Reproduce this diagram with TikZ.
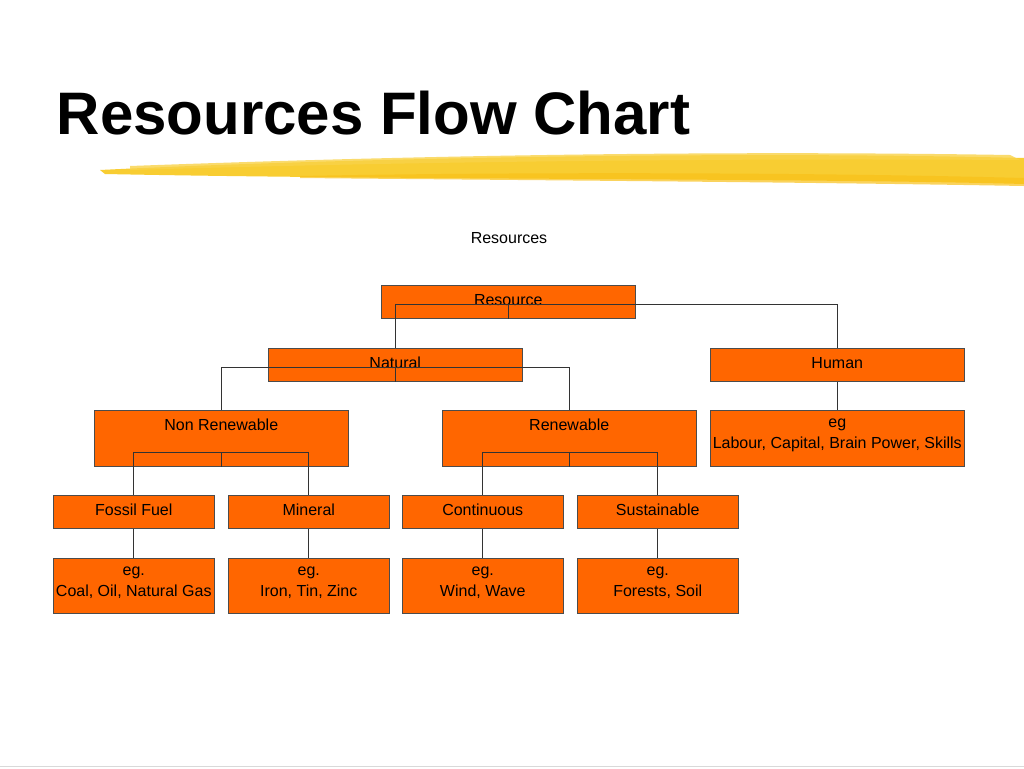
\documentclass[tikz,border=0pt]{standalone}
\usepackage{fontspec}
\setmainfont{Liberation Sans}
\begin{document}
\begin{tikzpicture}[x=0.75pt,y=-0.75pt,
  box/.style={draw=black!70,fill=orange!80!red!95!yellow,fill=orangeC,inner sep=0pt,anchor=north west,align=center,font=\fontsize{12}{15}\selectfont},
  con/.style={draw=black!80,line width=0.6pt}]
\definecolor{orangeC}{HTML}{FF6600}
\definecolor{brush}{HTML}{F8C81C}
\useasboundingbox (0,0) rectangle (1024,768);
\fill[white] (0,0) rectangle (1024,768);
\node[anchor=west,font=\fontsize{45}{50}\selectfont\bfseries] (title) at (52,113) {Resources Flow Chart};
% brush stroke
\fill[brush,opacity=0.9] (100,170) .. controls (300,160) and (700,150) .. (1024,158) -- (1024,184) .. controls (800,178) and (400,180) .. (105,174) -- cycle;
\fill[brush!80!white,opacity=0.8] (130,166) .. controls (400,156) and (700,150) .. (1010,155) -- (1020,160) .. controls (700,158) and (400,162) .. (130,170) -- cycle;
\fill[brush!90!orange,opacity=0.7] (300,176) .. controls (500,172) and (800,172) .. (1024,178) -- (1024,186) .. controls (800,182) and (500,180) .. (300,178) -- cycle;
\draw[black!15] (0,766) -- (1024,766);
\node[font=\fontsize{12}{15}\selectfont] (lbl) at (509,238) {Resources};
\newcommand{\bx}[6]{\node[box,minimum width=#4*0.75pt,minimum height=#5*0.75pt] (#1) at (#2,#3) {};
  \node[anchor=north,align=center,font=\fontsize{12}{15.5}\selectfont,inner sep=0pt] at ([yshift=-0.75pt*9]#1.north) {#6};}
\bx{res}{381}{285}{254}{33}{Resource}
\bx{nat}{268}{348}{254}{33}{Natural}
\bx{hum}{710}{348}{254}{33}{Human}
\bx{non}{94}{410}{254}{56}{Non Renewable}
\bx{ren}{442}{410}{254}{56}{Renewable}
\bx{heg}{710}{410}{254}{56}{eg\\Labour, Capital, Brain Power, Skills}
\bx{fos}{53}{495}{161}{33}{Fossil Fuel}
\bx{min}{228}{495}{161}{33}{Mineral}
\bx{con}{402}{495}{161}{33}{Continuous}
\bx{sus}{577}{495}{161}{33}{Sustainable}
\bx{e1}{53}{558}{161}{55}{eg.\\Coal, Oil, Natural Gas}
\bx{e2}{228}{558}{161}{55}{eg.\\Iron, Tin, Zinc}
\bx{e3}{402}{558}{161}{55}{eg.\\Wind, Wave}
\bx{e4}{577}{558}{161}{55}{eg.\\Forests, Soil}
\draw[con] (res.south) -- ++(0,14*0.75pt) -| (nat.north);
\draw[con] (res.south) -- ++(0,14*0.75pt) -| (hum.north);
\draw[con] (nat.south) -- ++(0,14*0.75pt) -| (non.north);
\draw[con] (nat.south) -- ++(0,14*0.75pt) -| (ren.north);
\draw[con] (hum.south) -- (heg.north);
\draw[con] (non.south) -- ++(0,14*0.75pt) -| (fos.north);
\draw[con] (non.south) -- ++(0,14*0.75pt) -| (min.north);
\draw[con] (ren.south) -- ++(0,14*0.75pt) -| (con.north);
\draw[con] (ren.south) -- ++(0,14*0.75pt) -| (sus.north);
\draw[con] (fos.south) -- (e1.north);
\draw[con] (min.south) -- (e2.north);
\draw[con] (con.south) -- (e3.north);
\draw[con] (sus.south) -- (e4.north);
\end{tikzpicture}
\end{document}
